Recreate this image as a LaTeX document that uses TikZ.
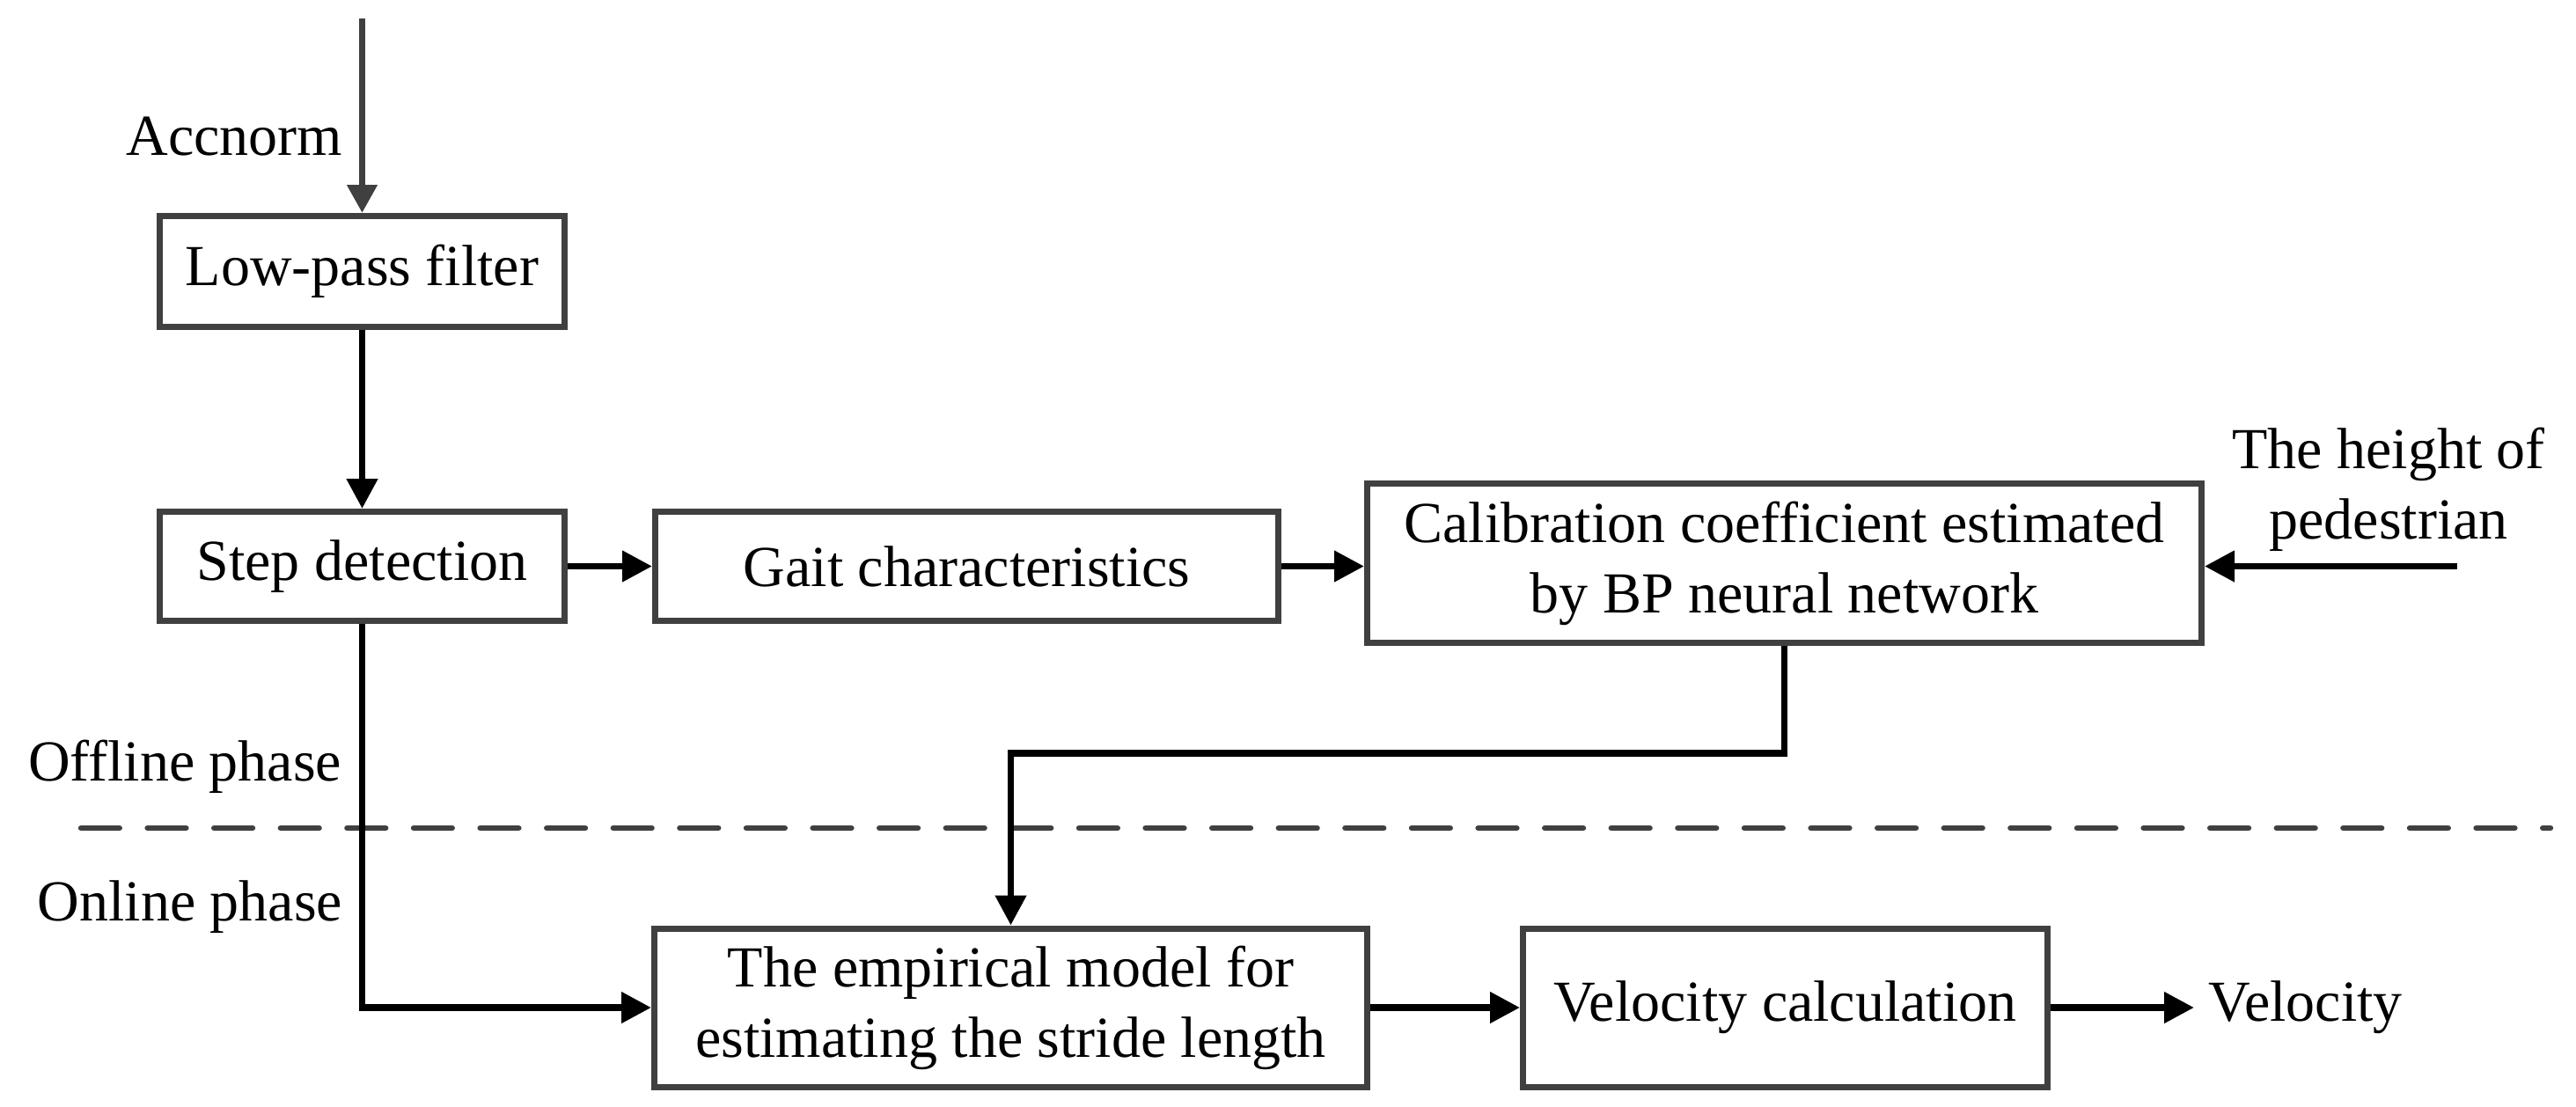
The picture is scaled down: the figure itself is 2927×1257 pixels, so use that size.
\documentclass[tikz,border=0pt]{standalone}
\usepackage{fontspec}
\setmainfont{Liberation Serif}
\usetikzlibrary{arrows.meta}
\definecolor{boxgray}{HTML}{404040}
\newcommand{\figfont}{\fontsize{16.5pt}{20pt}\selectfont}
\begin{document}
\begin{tikzpicture}[x=0.25pt,y=-0.25pt,
  box/.style={draw=boxgray, line width=1.75pt, inner sep=0pt, align=center, font=\figfont},
  arr/.style={-{Triangle[length=8.5pt,width=8.5pt]}, line width=1.9pt, draw=black},
  lbl/.style={inner sep=0pt, font=\figfont, align=center}]
\useasboundingbox (0,0) rectangle (2927,1257);

% boxes
\node[box, minimum width=115pt, minimum height=31.5pt] (lp) at (411.5,308.5) {Low-pass filter};
\node[box, minimum width=115pt, minimum height=31pt] (step) at (411.5,643.5) {Step detection};
\node[box, minimum width=177pt, minimum height=31pt] (gait) at (1098.5,643.5) {Gait characteristics};
\node[box, minimum width=237pt, minimum height=45.25pt] (calib) at (2027.5,640) {Calibration coefficient estimated\\by BP neural network};
\node[box, minimum width=202.5pt, minimum height=45pt] (emp) at (1148.5,1145) {The empirical model for\\estimating the stride length};
\node[box, minimum width=149pt, minimum height=45pt] (vel) at (2028.5,1145) {Velocity calculation};

% labels
\node[lbl, anchor=base east] (accl) at (390,176) {Accnorm};
\node[lbl, anchor=base east] (offl) at (389,887) {Offline phase};
\node[lbl, anchor=base east] (onl) at (390,1046) {Online phase};
\node[lbl] (hgt) at (2714,556) {The height of\\pedestrian};
\node[lbl, anchor=west, inner xsep=4pt] (velo) at (2493,1145) {Velocity};

% coordinates
\coordinate (acc) at (411.5,21);
\coordinate (hstart) at (2792,643.5);
\coordinate (bend) at (1148.5,856);
\coordinate (dashL) at (92,941);
\coordinate (dashR) at (2898,941);

% dashed separator
\draw[boxgray, line width=1.6pt, dash pattern=on 10.95pt off 7.95pt, line cap=round] (dashL) -- (dashR);

% connectors
\draw[-{Triangle[length=8pt,width=8.25pt]}, line width=1.9pt, draw=boxgray, fill=boxgray] (acc) -- (lp.north);
\draw[arr] (lp.south) -- (step.north);
\draw[arr] (step.east) -- (gait.west);
\draw[arr] (gait.east) -- (gait.east -| calib.west);
\draw[arr] (hstart) -- (hstart -| calib.east);
\draw[arr] (calib.south) |- (bend) -- (emp.north);
\draw[arr] (step.south) |- (emp.west);
\draw[arr] (emp.east) -- (vel.west);
\draw[arr] (vel.east) -- (velo.west);
\end{tikzpicture}
\end{document}
